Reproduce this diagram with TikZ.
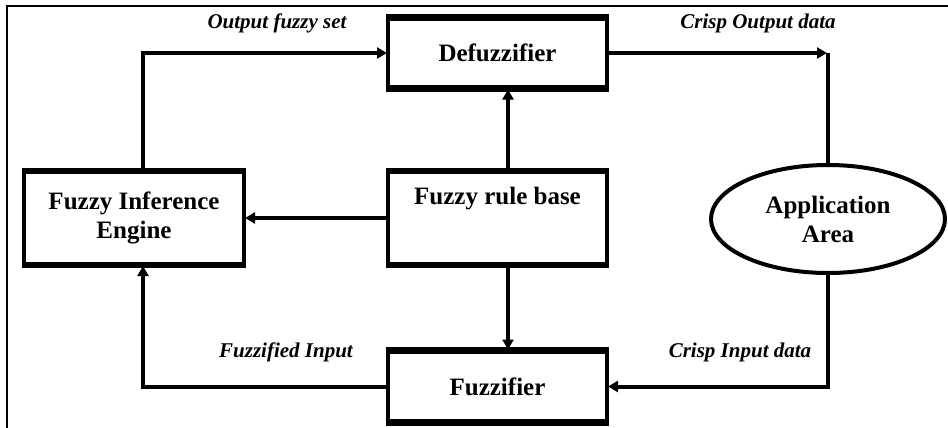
\documentclass[tikz,border=0pt]{standalone}
\usepackage{fontspec}
\setmainfont{Liberation Serif}
\usetikzlibrary{arrows.meta,shapes.geometric}
\tikzset{
  blk/.style={draw, rectangle, line width=4pt, outer sep=0pt, inner sep=0pt, minimum width=219pt, align=center, font=\fontsize{25}{30}\selectfont\bfseries},
  lbl/.style={inner sep=0pt, font=\fontsize{21}{25}\selectfont\bfseries\itshape},
  arr/.style={line width=4pt, -{Triangle[length=10pt,width=11pt]}, shorten >=1pt},
  ln/.style={line width=4pt},
  edge/.style={line width=6.5pt, line cap=butt},
}
\begin{document}
\begin{tikzpicture}[x=1pt,y=-1pt]
\useasboundingbox (0,0) rectangle (948,428);
\fill[white] (0,0) rectangle (948,428);
% frame
\draw[line width=2pt] (7,440) -- (7,6) -- (960,6);
% nodes
\node[blk, minimum height=71pt] (defuz) at (497.5,53) {Defuzzifier};
\node[blk, minimum height=94pt] (rule) at (497.5,218) {};
\node[font=\fontsize{25}{30}\selectfont\bfseries, inner sep=0pt] (ruletxt) at (497.5,199) {Fuzzy rule base};
\node[blk, minimum width=220pt, minimum height=94pt] (inf) at (134,218) {Fuzzy Inference\\[-1pt]Engine};
\node[blk, minimum height=72pt] (fuzz) at (497.5,386.5) {Fuzzifier};
\node[draw, ellipse, line width=4pt, outer sep=0pt, inner sep=0pt, minimum width=234pt, minimum height=108pt, align=center, font=\fontsize{25}{30}\selectfont\bfseries] (app) at (828,219) {Application\\[-1pt]Area};
% thicker top and bottom edges
\foreach \n in {defuz,rule,inf,fuzz}{
  \draw[edge] ([xshift=-2pt]\n.north west) -- ([xshift=2pt]\n.north east);
  \draw[edge] ([xshift=-2pt]\n.south west) -- ([xshift=2pt]\n.south east);
}
% helper coordinates
\coordinate (lx) at (143,0);
\coordinate (mx) at (508,0);
\coordinate (cr) at (828,53);
% connectors
\draw[arr] (inf.north -| lx) |- (defuz.west);
\draw[arr] (defuz.east) -- (cr);
\draw[ln] (cr) -- (app.north);
\draw[arr] (rule.north -| mx) -- (defuz.south -| mx);
\draw[arr] (rule.west) -- (inf.east);
\draw[arr] (rule.south -| mx) -- (fuzz.north -| mx);
\draw[arr] (fuzz.west) -| (inf.south -| lx);
\draw[arr] (app.south) |- (fuzz.east);
% labels
\node[lbl] (l1) at (277,23) {Output fuzzy set};
\node[lbl] (l2) at (758,23) {Crisp Output data};
\node[lbl] (l3) at (286,352) {Fuzzified Input};
\node[lbl] (l4) at (740,352) {Crisp Input data};
\end{tikzpicture}
\end{document}
